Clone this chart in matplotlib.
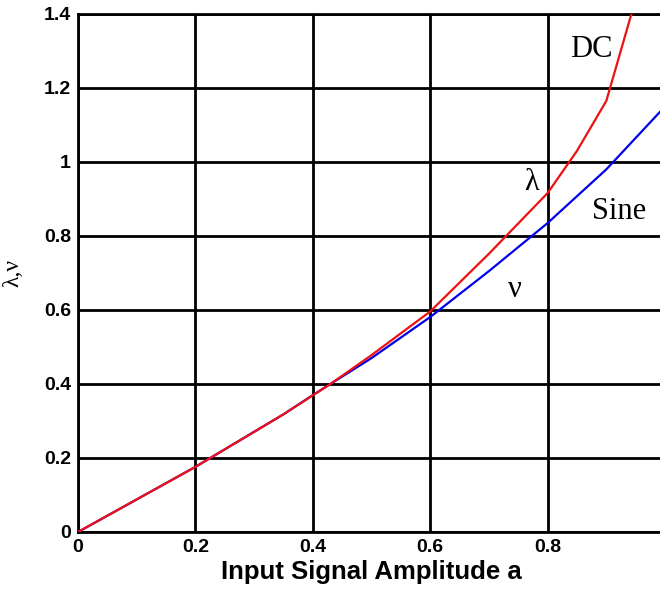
import matplotlib.pyplot as plt

# describing-function gains vs. input amplitude
a_dc = [0.0, 0.2, 0.35, 0.43, 0.5, 0.6, 0.7, 0.8, 0.85, 0.9, 0.95]
lam_dc = [0.0, 0.176, 0.318, 0.40, 0.478, 0.596, 0.752, 0.916, 1.03, 1.165, 1.44]

a_sine = [0.0, 0.2, 0.35, 0.4, 0.5, 0.6, 0.7, 0.8, 0.9, 1.0]
nu_sine = [0.0, 0.176, 0.318, 0.37, 0.47, 0.581, 0.705, 0.835, 0.98, 1.15]

x_ticks = [0, 0.2, 0.4, 0.6, 0.8, 1]
x_tick_labels = ["0", "0.2", "0.4", "0.6", "0.8", "1"]
y_ticks = [0, 0.2, 0.4, 0.6, 0.8, 1.0, 1.2, 1.4]
y_tick_labels = ["0", "0.2", "0.4", "0.6", "0.8", "1", "1.2", "1.4"]

sans = ["Liberation Sans", "DejaVu Sans"]
serif = ["Liberation Serif", "DejaVu Serif"]

fig = plt.figure(figsize=(6.6, 5.93), dpi=100)
ax = fig.add_axes([78 / 660, 61 / 593, 587 / 660, 518 / 593])

ax.plot(a_sine, nu_sine, color="#0000ee", lw=1.6, zorder=3)
ax.plot(a_dc, lam_dc, color="#ee1111", lw=1.6, zorder=4)

ax.set_xlim(0, 1)
ax.set_ylim(0, 1.4)
ax.set_xticks(x_ticks)
ax.set_xticklabels(x_tick_labels, fontfamily=sans, fontweight="bold", fontsize=14)
ax.set_yticks(y_ticks)
ax.set_yticklabels(y_tick_labels, fontfamily=sans, fontweight="bold", fontsize=14)
ax.tick_params(length=0, pad=5)
ax.grid(True, color="black", lw=2)
ax.set_axisbelow(True)
for s in ax.spines.values():
    s.set_linewidth(2)
    s.set_clip_on(False)

ax.set_xlabel("Input Signal Amplitude a", fontfamily=sans, fontweight="bold",
              fontsize=18.5, labelpad=3)
ax.set_ylabel("λ,ν", fontfamily=serif, fontsize=17)
ax.yaxis.set_label_coords(-0.093, 0.5)

# curve annotations
ax.text(0.874, 1.303, "DC", fontfamily=serif, fontsize=22, ha="center", va="center")
ax.text(0.772, 0.945, "λ", fontfamily=serif, fontsize=22, ha="center", va="center")
ax.text(0.922, 0.865, "Sine", fontfamily=serif, fontsize=22, ha="center", va="center")
ax.text(0.744, 0.655, "ν", fontfamily=serif, fontsize=22, ha="center", va="center")

fig.savefig("out.png", dpi=100)
